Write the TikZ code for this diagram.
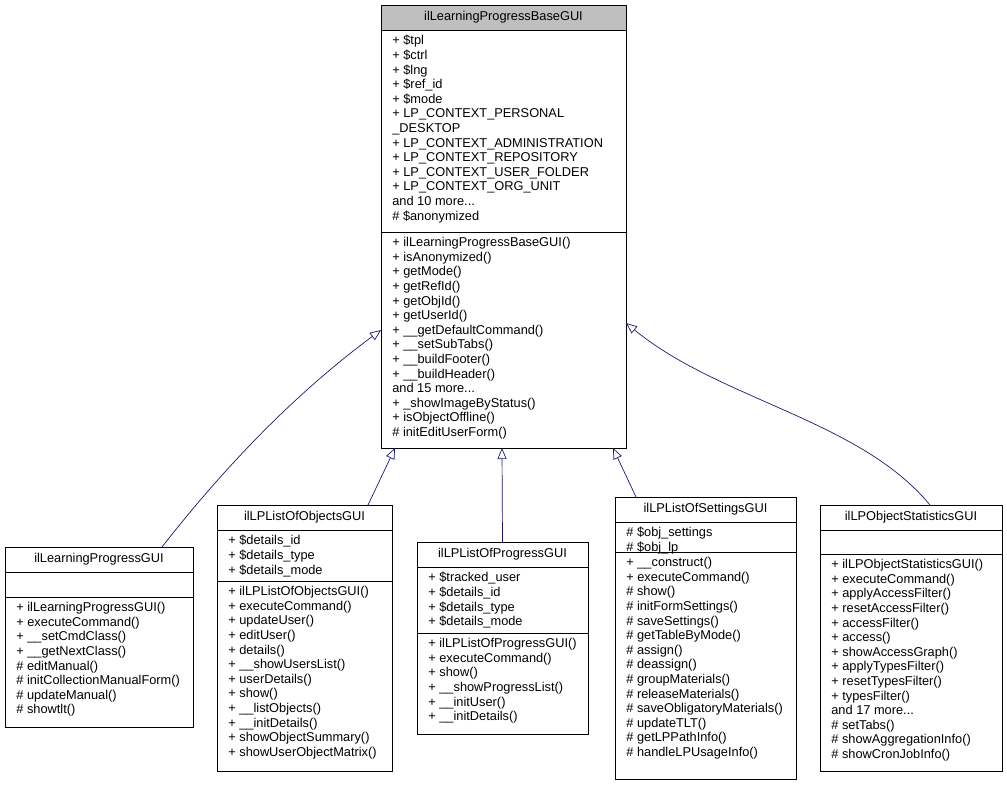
\documentclass[tikz,border=0pt]{standalone}
\usepackage{fontspec}
\setmainfont{Liberation Sans}
\usetikzlibrary{arrows.meta}
\definecolor{edge}{HTML}{191970}
\definecolor{hdr}{HTML}{BFBFBF}
\tikzset{
  txt/.style={anchor=north west,align=left,inner sep=0pt,font=\fontsize{12.8}{14.6}\selectfont},
  ttl/.style={inner sep=0pt,font=\fontsize{12.8}{14}\selectfont},
  inh/.style={draw=edge,-{Triangle[open,length=11pt,width=9pt]}},
}
\newcommand{\umlbox}[9]{%
 \draw[fill=#9] (#2,#4) rectangle (#3,#5);
 \draw[fill=white] (#2,#5) rectangle (#3,#6);
 \draw[fill=white] (#2,#6) rectangle (#3,#7);
 \node[ttl] (#1t) at ({(#2+#3)/2},{(#4+#5)/2}) {#8};
 \coordinate (#1top) at ({(#2+#3)/2},#4);
}
\begin{document}
\begin{tikzpicture}[x=1pt,y=-1pt,line width=0.7pt]
\useasboundingbox (0,0) rectangle (1007,785);
\umlbox{P}{381}{626}{5}{30}{232}{448}{ilLearningProgressBaseGUI}{hdr}
\node[txt] at (392,35) {+ \$tpl\\+ \$ctrl\\+ \$lng\\+ \$ref\_id\\+ \$mode\\+ LP\_CONTEXT\_PERSONAL\\\_DESKTOP\\+ LP\_CONTEXT\_ADMINISTRATION\\+ LP\_CONTEXT\_REPOSITORY\\+ LP\_CONTEXT\_USER\_FOLDER\\+ LP\_CONTEXT\_ORG\_UNIT\\and 10 more...\\\# \$anonymized};
\node[txt] at (392,237) {+ ilLearningProgressBaseGUI()\\+ isAnonymized()\\+ getMode()\\+ getRefId()\\+ getObjId()\\+ getUserId()\\+ \_\_getDefaultCommand()\\+ \_\_setSubTabs()\\+ \_\_buildFooter()\\+ \_\_buildHeader()\\and 15 more...\\+ \_showImageByStatus()\\+ isObjectOffline()\\\# initEditUserForm()};
\coordinate (Pl) at (381,330);
\coordinate (Pr) at (626,323);
\coordinate (Pa) at (395,448);
\coordinate (Pb) at (502,448);
\coordinate (Pc) at (613,448);
\umlbox{A}{5}{193}{547}{572}{597}{727}{ilLearningProgressGUI}{white}
\node[txt] at (16,602) {+ ilLearningProgressGUI()\\+ executeCommand()\\+ \_\_setCmdClass()\\+ \_\_getNextClass()\\\# editManual()\\\# initCollectionManualForm()\\\# updateManual()\\\# showtlt()};
\umlbox{B}{217}{392}{505}{530}{581}{771}{ilLPListOfObjectsGUI}{white}
\node[txt] at (228,535) {+ \$details\_id\\+ \$details\_type\\+ \$details\_mode};
\node[txt] at (228,586) {+ ilLPListOfObjectsGUI()\\+ executeCommand()\\+ updateUser()\\+ editUser()\\+ details()\\+ \_\_showUsersList()\\+ userDetails()\\+ show()\\+ \_\_listObjects()\\+ \_\_initDetails()\\+ showObjectSummary()\\+ showUserObjectMatrix()};
\umlbox{C}{417}{588}{542}{567}{633}{734}{ilLPListOfProgressGUI}{white}
\node[txt] at (428,572) {+ \$tracked\_user\\+ \$details\_id\\+ \$details\_type\\+ \$details\_mode};
\node[txt] at (428,638) {+ ilLPListOfProgressGUI()\\+ executeCommand()\\+ show()\\+ \_\_showProgressList()\\+ \_\_initUser()\\+ \_\_initDetails()};
\umlbox{D}{615}{796}{497}{522}{552}{779}{ilLPListOfSettingsGUI}{white}
\node[txt] at (626,527) {\# \$obj\_settings\\\# \$obj\_lp};
\node[txt] at (626,557) {+ \_\_construct()\\+ executeCommand()\\\# show()\\\# initFormSettings()\\\# saveSettings()\\\# getTableByMode()\\\# assign()\\\# deassign()\\\# groupMaterials()\\\# releaseMaterials()\\\# saveObligatoryMaterials()\\\# updateTLT()\\\# getLPPathInfo()\\\# handleLPUsageInfo()};
\umlbox{E}{820}{1002}{505}{530}{554}{771}{ilLPObjectStatisticsGUI}{white}
\node[txt] at (831,559) {+ ilLPObjectStatisticsGUI()\\+ executeCommand()\\+ applyAccessFilter()\\+ resetAccessFilter()\\+ accessFilter()\\+ access()\\+ showAccessGraph()\\+ applyTypesFilter()\\+ resetTypesFilter()\\+ typesFilter()\\and 17 more...\\\# setTabs()\\\# showAggregationInfo()\\\# showCronJobInfo()};
\coordinate (As) at (162,547);
\coordinate (Bs) at (368,505);
\coordinate (Ds) at (636,497);
\coordinate (Es) at (930,505);
\draw[inh] (As) .. controls (230,460) and (300,390) .. (Pl);
\draw[inh] (Bs) -- (Pa);
\draw[inh] (Ctop) -- (Pb);
\draw[inh] (Ds) -- (Pc);
\draw[inh] (Es) .. controls (860,420) and (720,400) .. (Pr);
\end{tikzpicture}
\end{document}
